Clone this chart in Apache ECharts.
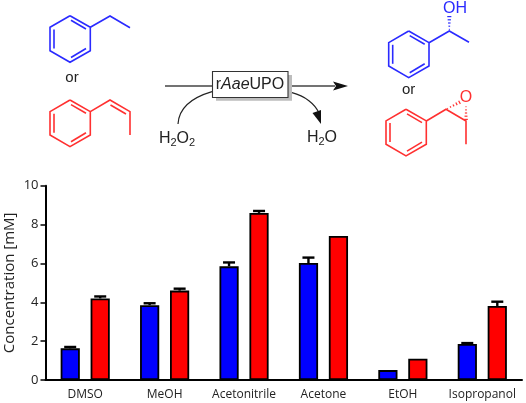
<!DOCTYPE html>
<html><head><meta charset="utf-8">
<style>html,body{margin:0;padding:0;background:#fff}#c{width:526px;height:403px}</style>
<script src="https://cdn.jsdelivr.net/npm/echarts@6/dist/echarts.min.js"></script>
</head><body><div id="c"></div>
<script>
const categories = ['DMSO','MeOH','Acetonitrile','Acetone','EtOH','Isopropanol'];
const blueValues = [1.63,3.85,5.85,6.02,0.51,1.85];
const redValues  = [4.2,4.6,8.6,7.41,1.1,3.81];
const blueErrorTop = [1.7,3.95,6.05,6.3,null,1.9];
const redErrorTop  = [4.3,4.7,8.7,null,null,4.03];
const yTicks = {min:0,max:10,interval:2};

const BLUE='#2a2aff', RED='#ff3030', INK='#2b2b2b', chemFont='"Liberation Sans",Arial,sans-serif';
function line(pts,color,w){return {type:'polyline',silent:true,shape:{points:pts},style:{stroke:color,lineWidth:w||1.6,fill:null}};}
function ring(dx,dy,color){
  const p=[[70,15.7],[90.3,27.3],[90.3,50.7],[70,62.3],[50,50.7],[50,27.3],[70,15.7]].map(a=>[a[0]+dx,a[1]+dy]);
  const inner=[[[71,20.3],[86,29]],[[54,29.5],[54,48.5]],[[86,48.5],[71,57.5]]].map(s=>s.map(a=>[a[0]+dx,a[1]+dy]));
  return [line(p,color)].concat(inner.map(s=>line(s,color)));
}
function hashed(a,b,w0,w1,n,color){
  const out=[],dx=b[0]-a[0],dy=b[1]-a[1],L=Math.hypot(dx,dy),nx=-dy/L,ny=dx/L;
  for(let i=0;i<n;i++){const t=(i+0.5)/n,w=(w0+(w1-w0)*t)/2,x=a[0]+dx*t,y=a[1]+dy*t;
    out.push(line([[x-nx*w,y-ny*w],[x+nx*w,y+ny*w]],color,1.2));}
  return out;
}
function txt(x,y,text,size,color,rich){
  return {type:'text',silent:true,style:{x,y,text,fill:color,fontSize:size,fontFamily:chemFont,align:'center',verticalAlign:'middle',rich}};
}
function curve(x1,y1,cx1,cy1,cx2,cy2,x2,y2){
  return {type:'bezierCurve',silent:true,shape:{x1,y1,cpx1:cx1,cpy1:cy1,cpx2:cx2,cpy2:cy2,x2,y2},style:{stroke:'#222',lineWidth:1.2,fill:null}};
}
const subRich={n:{fontSize:16,fontFamily:chemFont,fill:'#222'},s:{fontSize:11,fontFamily:chemFont,fill:'#222',verticalAlign:'bottom',padding:[8,0,0,0]}};
const graphics=[].concat(
  ring(0,0,BLUE),[line([[90.3,27.3],[110,16],[130,27.7]],BLUE)],
  [txt(72,78,'or',15,'#222')],
  ring(0,84.3,RED),[line([[90.3,111.6],[110,100],[130,111.6],[130,135]],RED),line([[110.5,105],[126,114]],RED)],
  [line([[165,86],[212,86]],'#444',1.5),line([[292,86],[335,86]],'#444',1.5),
   {type:'polygon',silent:true,shape:{points:[[333,81.5],[348,86],[333,90.5],[336,86]]},style:{fill:'#111'}},
   {type:'rect',silent:true,shape:{x:216,y:75,width:76,height:25.7},style:{fill:'#bdbdbd'}},
   {type:'rect',silent:true,shape:{x:212.5,y:71.5,width:75.5,height:26},style:{fill:'#fff',stroke:'#333',lineWidth:1.1}},
   txt(250,85,'{n|r}{i|Aae}{n|UPO}',16,'#222',{n:{fontSize:16,fontFamily:chemFont,fill:'#222'},i:{fontSize:16,fontStyle:'italic',fontFamily:chemFont,fill:'#222'}}),
   curve(178,124,179,107,194,97,212,91.7),
   curve(292,92.7,305,96,315,104,319,113),
   {type:'polygon',silent:true,shape:{points:[[312.5,113],[321,110],[321,124]]},style:{fill:'#111'}},
   txt(177,139,'{n|H}{s|2}{n|O}{s|2}',16,'#222',subRich),
   txt(322,138,'{n|H}{s|2}{n|O}',16,'#222',subRich)],
  ring(338.7,15.3,BLUE),[line([[429,42.7],[449.3,31],[469,42.3]],BLUE)],
  hashed([449.3,31],[449.3,15],0.5,4.5,5,BLUE),
  [txt(455,8.5,'OH',16,BLUE)],
  [txt(408.7,90,'or',15,'#222')],
  ring(336,93.6,RED),[line([[426.3,121],[446,109.3],[466,121],[466,144.3]],RED)],
  hashed([446,109.3],[461,101.5],0.5,4,5,RED),
  hashed([466,121],[466,105],4,0.5,5,RED),
  [txt(466,98,'O',16,RED)]
);

function errorSeries(tops,side){
  return {type:'custom',z:5,silent:true,data:tops.map((t,i)=>[i,t]).filter(d=>d[1]!=null),
    renderItem(params,api){
      const band=api.size([1,0])[0],off=side*band*0.189;
      const p=api.coord([api.value(0),api.value(1)]);
      const vals=side<0?blueValues:redValues;
      const b=api.coord([api.value(0),vals[api.value(0)]]);
      const x=p[0]+off,st={stroke:'#000',lineWidth:2.4,fill:null};
      return {type:'group',children:[
        {type:'line',shape:{x1:x,y1:b[1],x2:x,y2:p[1]},style:st},
        {type:'line',shape:{x1:x-6,y1:p[1],x2:x+6,y2:p[1]},style:st}
      ]};
    }};
}
const barStyle=c=>({color:c,borderColor:'#000',borderWidth:1.8});
const chart=echarts.init(document.getElementById('c'),null,{renderer:'canvas'});
chart.setOption({
  animation:false,backgroundColor:'#fff',
  grid:{left:45.5,right:4,top:185.7,bottom:23,containLabel:false,outerBoundsMode:'none'},
  textStyle:{fontFamily:'"Open Sans",sans-serif'},
  xAxis:{type:'category',data:categories,
    axisLine:{lineStyle:{color:'#000',width:2}},
    axisTick:{alignWithLabel:true,length:4,lineStyle:{color:'#000',width:1.5}},
    axisLabel:{color:'#222',fontSize:12,margin:9,interval:0,fontFamily:'"Open Sans",sans-serif'}},
  yAxis:{type:'value',...yTicks,name:'Concentration [mM]',nameLocation:'middle',nameGap:28,nameMoveOverlap:false,
    nameTextStyle:{color:'#222',fontSize:15,fontFamily:'"Open Sans",sans-serif'},
    axisLine:{show:true,lineStyle:{color:'#000',width:2}},
    axisTick:{show:true,length:5,lineStyle:{color:'#000',width:1.5}},
    axisLabel:{color:'#222',fontSize:13,margin:7,fontFamily:'"Open Sans",sans-serif'},
    splitLine:{show:false}},
  series:[
    {type:'bar',data:blueValues,barWidth:19.2,barGap:'56%',itemStyle:barStyle('#0000ff')},
    {type:'bar',data:redValues,barWidth:19.2,itemStyle:barStyle('#ff0000')},
    errorSeries(blueErrorTop,-1),errorSeries(redErrorTop,1)
  ],
  graphic:{elements:graphics}
});
</script></body></html>
